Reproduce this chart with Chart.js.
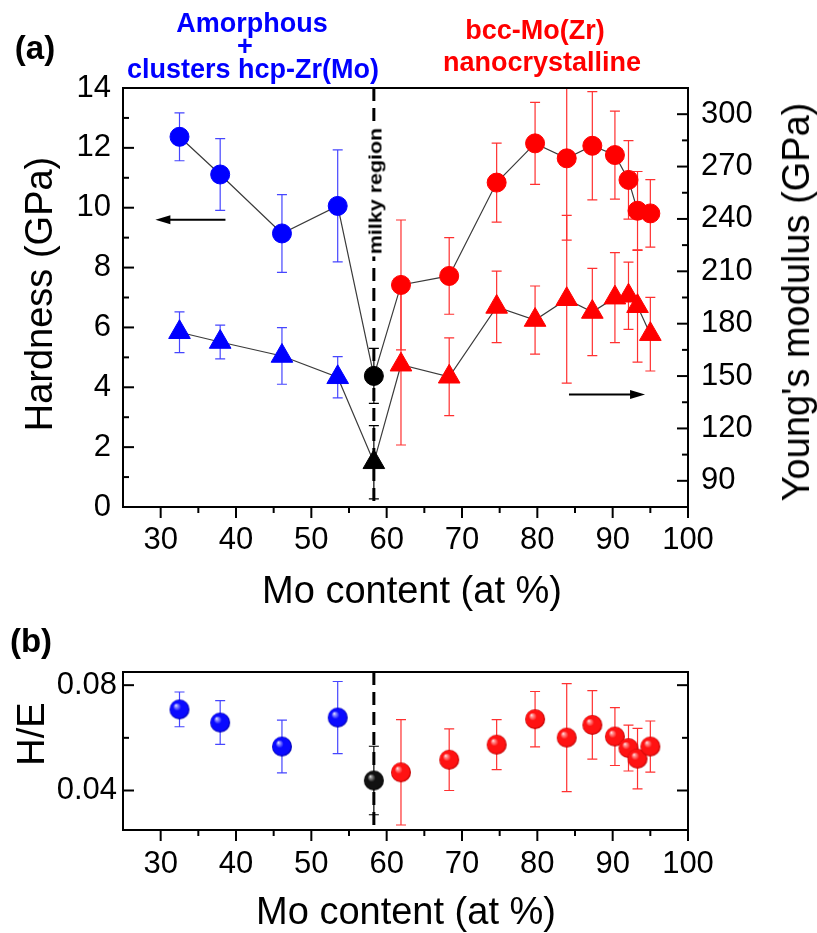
<!DOCTYPE html>
<html>
<head>
<meta charset="utf-8">
<script src="https://cdn.jsdelivr.net/npm/chart.js@4"></script>
<style>
body { margin: 0; background: #fff; }
#wrap { position: relative; width: 817px; height: 933px; overflow: hidden; font-family: "Liberation Sans", Arial, sans-serif; }
canvas { position: absolute; left: 0; }
.lbl { position: absolute; white-space: nowrap; line-height: 1; transform: translate(-50%, -50%); color: #000; }
.rot { transform: translate(-50%, -50%) rotate(-90deg); }
.big { font-size: 38px; }
.tag { font-size: 33px; font-weight: bold; }
.phase { font-size: 27px; font-weight: bold; }
</style>
</head>
<body>
<div id="wrap">
  <canvas id="chartA" width="817" height="600" style="top:0"></canvas>
  <canvas id="chartB" width="817" height="333" style="top:600px"></canvas>

  <div class="lbl tag" style="left:35px;top:47px">(a)</div>
  <div class="lbl phase" style="left:252px;top:23px;color:#0000ff">Amorphous</div>
  <div class="lbl phase" style="left:245px;top:46px;color:#0000ff">+</div>
  <div class="lbl phase" style="left:253px;top:69px;color:#0000ff">clusters hcp-Zr(Mo)</div>
  <div class="lbl phase" style="left:535px;top:30px;color:#ff0000">bcc-Mo(Zr)</div>
  <div class="lbl phase" style="left:542px;top:62px;color:#ff0000">nanocrystalline</div>
  <div class="lbl" style="left:375px;top:191px;font-size:19px;font-weight:bold;background:#fff;padding:0 2px;transform:translate(-50%,-50%) rotate(-90deg) scaleX(1.13)">milky region</div>
  <div class="lbl big rot" style="left:39px;top:294px">Hardness (GPa)</div>
  <div class="lbl big rot" style="left:796px;top:302px">Young's modulus (GPa)</div>
  <div class="lbl big" style="left:412px;top:590px">Mo content (at %)</div>

  <div class="lbl tag" style="left:31px;top:640px">(b)</div>
  <div class="lbl big rot" style="left:31px;top:734px">H/E</div>
  <div class="lbl big" style="left:406px;top:911px">Mo content (at %)</div>
</div>

<script>
// Mo content of each film and the phase it belongs to
const moContent = [32.5, 37.9, 46.1, 53.5, 58.3, 61.9, 68.3, 74.6, 79.7, 83.9, 87.3, 90.3, 92.1, 93.3, 95.0];
const phase = ["amorphous", "amorphous", "amorphous", "amorphous", "milky",
    "bcc", "bcc", "bcc", "bcc", "bcc", "bcc", "bcc", "bcc", "bcc", "bcc"];

const hardness = [12.37, 11.11, 9.14, 10.06, 4.38, 7.42, 7.72, 10.84, 12.15, 11.65, 12.07, 11.76, 10.93, 9.90, 9.81];
const hardnessErr = [0.8, 1.2, 1.3, 1.87, 0.92, 2.17, 1.28, 1.32, 1.37, 2.73, 1.81, 1.47, 1.31, 1.31, 1.13];

const modulus = [175.1, 169.5, 161.5, 149.3, 100.6, 156.5, 149.6, 189.6, 182.1, 194, 186.7, 194.9, 196, 190, 174];
const modulusErr = [11.7, 9.7, 16.2, 11.8, 21, 46, 22.3, 20.5, 19.5, 48, 25, 25.8, 19.3, 32, 21.1];

const hOverE = [0.0708, 0.0658, 0.0567, 0.0677, 0.0438, 0.0469, 0.0517, 0.0574, 0.0671, 0.0601, 0.0649, 0.0605, 0.0561, 0.0521, 0.0567];
const hOverEErr = [0.0066, 0.0083, 0.01, 0.0137, 0.013, 0.02, 0.0117, 0.0095, 0.0105, 0.0205, 0.013, 0.011, 0.0087, 0.0115, 0.0097];

const xTicks = [30, 40, 50, 60, 70, 80, 90, 100];
const hardnessTicks = [0, 2, 4, 6, 8, 10, 12, 14];
const modulusTicks = [90, 120, 150, 180, 210, 240, 270, 300];
const heTicks = [0.04, 0.08];
const milkyX = 58.3;

const phaseColor = { amorphous: "#0000ff", milky: "#000000", bcc: "#ff0000" };
const errColor = { amorphous: "#4646ff", milky: "#000000", bcc: "#ff3030" };
const FONT = "'Liberation Sans', Arial, sans-serif";

const toPoints = (ys) => moContent.map((x, i) => ({ x: x, y: ys[i] }));

// shaded ball used as marker in (b)
const sphere = (base, light, dark, r) => {
    const c = document.createElement("canvas");
    c.width = c.height = 2 * r + 2;
    const g = c.getContext("2d");
    const cx = r + 1, cy = r + 1;
    const grad = g.createRadialGradient(cx - r * 0.38, cy - r * 0.42, 0, cx, cy, r);
    grad.addColorStop(0, "#ffffff");
    grad.addColorStop(0.12, light);
    grad.addColorStop(0.4, base);
    grad.addColorStop(0.85, base);
    grad.addColorStop(1, dark);
    g.fillStyle = grad;
    g.beginPath();
    g.arc(cx, cy, r, 0, Math.PI * 2);
    g.fill();
    return c;
}

const balls = {
    amorphous: sphere("#0a0aff", "#a0a0ff", "#0000a8", 10),
    milky: sphere("#111111", "#9a9a9a", "#000000", 10),
    bcc: sphere("#ff1212", "#ffa0a0", "#b80000", 10),
};

// error bars, milky-region line, frame, ticks and arrows
const decor = {
    id: "decor",
    beforeDatasetsDraw(chart) {
        const { ctx, chartArea: a } = chart;
        const xs = chart.scales.x;
        ctx.save();
        ctx.beginPath();
        ctx.rect(a.left, a.top, a.right - a.left, a.bottom - a.top);
        ctx.clip();

        const mx = xs.getPixelForValue(milkyX);
        ctx.setLineDash([13, 7]);
        ctx.lineWidth = 3;
        ctx.strokeStyle = "#000";
        ctx.beginPath();
        ctx.moveTo(mx, a.top);
        ctx.lineTo(mx, a.bottom);
        ctx.stroke();
        ctx.setLineDash([]);

        chart.data.datasets.forEach(ds => {
            if (!ds.errors) return;
            const ys = chart.scales[ds.yAxisID];
            ds.data.forEach((p, i) => {
                const x = xs.getPixelForValue(p.x);
                const y1 = ys.getPixelForValue(p.y + ds.errors[i]);
                const y2 = ys.getPixelForValue(p.y - ds.errors[i]);
                ctx.strokeStyle = errColor[phase[i]];
                ctx.lineWidth = 1.2;
                ctx.beginPath();
                ctx.moveTo(x, y1); ctx.lineTo(x, y2);
                ctx.moveTo(x - 5, y1); ctx.lineTo(x + 5, y1);
                ctx.moveTo(x - 5, y2); ctx.lineTo(x + 5, y2);
                ctx.stroke();
            });
        });
        ctx.restore();
    },
    afterDraw(chart, args, opts) {
        const { ctx, chartArea: a } = chart;
        ctx.save();
        ctx.strokeStyle = "#000";
        ctx.lineWidth = 2;
        ctx.strokeRect(a.left, a.top, a.right - a.left, a.bottom - a.top);

        (opts.axes || []).forEach(ax => {
            const s = chart.scales[ax.id];
            const major = s.ticks.map(t => t.value);
            const minor = major.slice(1).map((v, i) => (v + major[i]) / 2);
            const mark = (v, len) => {
                const p = s.getPixelForValue(v);
                ctx.beginPath();
                if (ax.edge === "bottom") {
                    ctx.moveTo(p, a.bottom); ctx.lineTo(p, a.bottom + len);
                } else if (ax.edge === "left") {
                    ctx.moveTo(a.left, p); ctx.lineTo(a.left + len, p);
                } else {
                    ctx.moveTo(a.right, p); ctx.lineTo(a.right - len, p);
                }
                ctx.stroke();
            };
            major.forEach(v => mark(v, 11));
            minor.forEach(v => mark(v, 6));
        });

        (opts.arrows || []).forEach(ar => {
            const xs = chart.scales.x, ys = chart.scales[ar.axis];
            const x1 = xs.getPixelForValue(ar.from), x2 = xs.getPixelForValue(ar.to);
            const y = ys.getPixelForValue(ar.at);
            const dir = Math.sign(x2 - x1);
            ctx.lineWidth = 2;
            ctx.beginPath();
            ctx.moveTo(x1, y);
            ctx.lineTo(x2 - dir * 12, y);
            ctx.stroke();
            ctx.fillStyle = "#000";
            ctx.beginPath();
            ctx.moveTo(x2, y);
            ctx.lineTo(x2 - dir * 15, y - 4.5);
            ctx.lineTo(x2 - dir * 15, y + 4.5);
            ctx.closePath();
            ctx.fill();
        });
        ctx.restore();
    }
};

const tickFont = { family: FONT, size: 31 };
const setTicks = (list) => (s) => { s.ticks = list.map(v => ({ value: v })); };

new Chart(document.getElementById("chartA"), {
    type: "scatter",
    data: {
        datasets: [{
            label: "Hardness",
            data: toPoints(hardness),
            errors: hardnessErr,
            yAxisID: "yH",
            showLine: true,
            borderColor: "#3a3a3a",
            borderWidth: 1.2,
            pointStyle: "circle",
            pointRadius: 9.5,
            pointBorderWidth: 1,
            pointBackgroundColor: phase.map(p => phaseColor[p]),
            pointBorderColor: phase.map(p => phaseColor[p]),
        }, {
            label: "Young's modulus",
            data: toPoints(modulus),
            errors: modulusErr,
            yAxisID: "yE",
            showLine: true,
            borderColor: "#3a3a3a",
            borderWidth: 1.2,
            pointStyle: "triangle",
            pointRadius: 12.5,
            pointBorderWidth: 1,
            pointBackgroundColor: phase.map(p => phaseColor[p]),
            pointBorderColor: phase.map(p => phaseColor[p]),
        }]
    },
    options: {
        responsive: false,
        animation: false,
        devicePixelRatio: 1,
        layout: { padding: { top: 88, left: 0, right: 0, bottom: 0 } },
        plugins: {
            legend: { display: false },
            tooltip: { enabled: false },
            decor: {
                axes: [{ id: "x", edge: "bottom" }, { id: "yH", edge: "left" }, { id: "yE", edge: "right" }],
                arrows: [{ axis: "yH", at: 9.6, from: 38.6, to: 29.3 }, { axis: "yE", at: 139.5, from: 84.2, to: 94.3 }]
            }
        },
        scales: {
            x: {
                type: "linear", position: "bottom", min: 25, max: 100,
                afterBuildTicks: setTicks(xTicks),
                afterFit: s => { s.height = 93; },
                grid: { display: false, drawTicks: false },
                border: { display: false },
                ticks: { font: tickFont, color: "#000", padding: 15, autoSkip: false, maxRotation: 0 }
            },
            yH: {
                type: "linear", position: "left", min: 0, max: 14,
                afterBuildTicks: setTicks(hardnessTicks),
                afterFit: s => { s.width = 123; },
                grid: { display: false, drawTicks: false },
                border: { display: false },
                ticks: { font: tickFont, color: "#000", padding: 12, autoSkip: false }
            },
            yE: {
                type: "linear", position: "right", min: 75, max: 315,
                afterBuildTicks: setTicks(modulusTicks),
                afterFit: s => { s.width = 129; },
                grid: { display: false, drawTicks: false },
                border: { display: false },
                ticks: { font: tickFont, color: "#000", padding: 13, autoSkip: false }
            }
        }
    },
    plugins: [decor]
});

new Chart(document.getElementById("chartB"), {
    type: "scatter",
    data: {
        datasets: [{
            label: "H/E",
            data: toPoints(hOverE),
            errors: hOverEErr,
            yAxisID: "y",
            pointStyle: phase.map(p => balls[p]),
            pointRadius: 10,
        }]
    },
    options: {
        responsive: false,
        animation: false,
        devicePixelRatio: 1,
        layout: { padding: { top: 72, left: 0, right: 129, bottom: 0 } },
        plugins: {
            legend: { display: false },
            tooltip: { enabled: false },
            decor: {
                axes: [{ id: "x", edge: "bottom" }, { id: "y", edge: "left" }, { id: "y", edge: "right" }]
            }
        },
        scales: {
            x: {
                type: "linear", position: "bottom", min: 25, max: 100,
                afterBuildTicks: setTicks(xTicks),
                afterFit: s => { s.height = 103; },
                grid: { display: false, drawTicks: false },
                border: { display: false },
                ticks: { font: tickFont, color: "#000", padding: 16, autoSkip: false, maxRotation: 0 }
            },
            y: {
                type: "linear", position: "left", min: 0.025, max: 0.085,
                afterBuildTicks: setTicks(heTicks),
                afterFit: s => { s.width = 123; },
                grid: { display: false, drawTicks: false },
                border: { display: false },
                ticks: { font: tickFont, color: "#000", padding: 6, autoSkip: false, callback: v => v.toFixed(2) }
            }
        }
    },
    plugins: [decor]
});
</script>
</body>
</html>
